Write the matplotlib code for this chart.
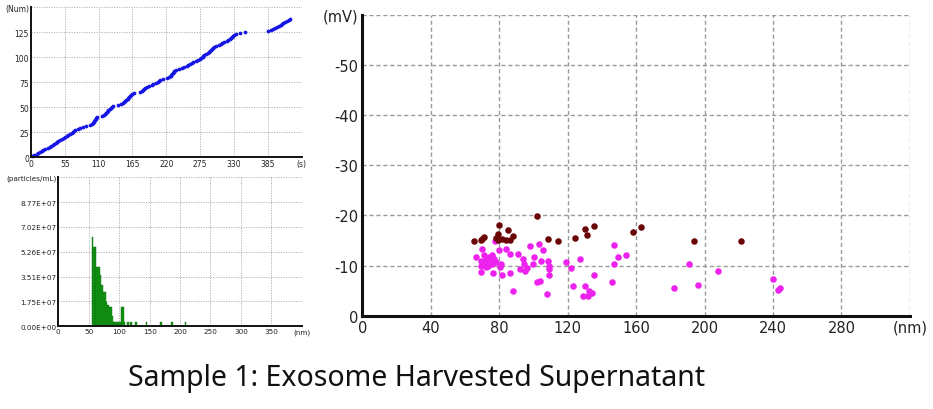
import matplotlib

matplotlib.use("Agg")
import matplotlib.pyplot as plt
import numpy as np

# top-left: arrival time (s) of each counted particle
event_time_s = [
    1, 5, 9, 12, 15, 18, 20, 23, 27, 31, 33, 35, 37, 40, 42, 44, 47, 50, 53, 55,
    58, 61, 63, 66, 68, 70, 72, 76, 80, 84, 90, 96, 100, 101, 102, 103, 104, 105,
    106, 108, 115, 118, 120, 122, 124, 125, 126, 128, 130, 132, 134, 142, 146,
    149, 151, 153, 155, 157, 158, 160, 161, 163, 165, 167, 177, 180, 182, 184,
    186, 188, 192, 196, 199, 203, 206, 208, 210, 215, 221, 225, 227, 228, 229,
    231, 232, 233, 235, 240, 245, 249, 253, 256, 259, 262, 264, 268, 272, 275,
    277, 279, 280, 282, 285, 287, 289, 291, 293, 295, 296, 298, 300, 306, 309,
    311, 314, 318, 320, 323, 325, 327, 328, 330, 334, 340, 348, 386, 390, 394,
    397, 400, 404, 406, 408, 410, 413, 416, 419, 421,
]
time_ticks = [0, 55, 110, 165, 220, 275, 330, 385, 440]
time_labels = ["0", "55", "110", "165", "220", "275", "330", "385", "(s)"]
num_ticks = [0, 25, 50, 75, 100, 125, 150]
num_labels = ["0", "25", "50", "75", "100", "125", "(Num)"]

# bottom-left: size distribution
bin_center_nm = [
    56.25, 58.75, 61.25, 63.75, 66.25, 68.75, 71.25, 73.75, 76.25, 78.75,
    81.25, 83.75, 86.25, 88.75, 91.25, 93.75, 96.25, 98.75, 101.25, 103.75,
    106.25, 108.75, 114, 119.5, 127, 145, 169, 187, 209,
]
conc_e7 = [
    6.33, 5.62, 5.62, 4.21, 4.21, 3.62, 2.92, 2.44, 2.44, 1.74,
    1.50, 1.38, 1.38, 0.75, 0.32, 0.32, 0.32, 0.32, 0.32, 1.38,
    1.38, 0.32, 0.32, 0.32, 0.32, 0.32, 0.32, 0.32, 0.32,
]
size_ticks = [0, 50, 100, 150, 200, 250, 300, 350, 400]
size_labels = ["0", "50", "100", "150", "200", "250", "300", "350", "(nm)"]
conc_ticks = [0, 1.754e7, 3.508e7, 5.262e7, 7.016e7, 8.77e7, 1.0524e8]
conc_labels = ["0.00E+00", "1.75E+07", "3.51E+07", "5.26E+07", "7.02E+07",
               "8.77E+07", "(particles/mL)"]

# right: zeta potential vs size
dark_size_nm = [65.2, 69.1, 69.8, 70.9, 79.3, 78.2, 80.0, 79.3, 81.6, 83.9, 85.0,
                86.6, 88.0, 102.1, 108.3, 114.2, 124.2, 130.2, 131.1, 135.2,
                158.0, 163.0, 194.0, 221.1]
dark_zeta_mv = [-14.9, -15.0, -15.3, -15.7, -15.0, -15.5, -18.0, -16.3, -15.2,
                -15.1, -17.1, -15.1, -15.9, -19.9, -15.3, -14.9, -15.5, -17.3,
                -16.0, -17.9, -16.7, -17.7, -14.9, -14.9]
pink_size_nm = [66.3, 69.1, 69.1, 69.5, 70.0, 70.9, 71.4, 72.5, 72.5, 73.2, 73.6,
                74.1, 74.8, 75.5, 75.9, 76.4, 77.1, 77.5, 78.2, 80.0, 80.5, 80.9,
                81.6, 83.9, 86.2, 86.2, 88.0, 91.2, 92.3, 93.7, 94.2, 95.3, 96.4,
                98.0, 99.9, 100.5, 102.1, 103.3, 103.7, 104.4, 105.5, 107.8, 108.3,
                109.0, 109.0, 109.0, 119.2, 122.2, 123.1, 127.2, 130.2, 129.0,
                131.8, 132.5, 134.1, 135.2, 146.1, 147.0, 147.0, 149.3, 154.1,
                181.9, 191.0, 196.1, 208.1, 240.0, 243.0, 244.2]
pink_zeta_mv = [-11.7, -8.7, -10.0, -11.0, -13.3, -12.0, -10.3, -9.7, -11.3, -10.7,
                -10.0, -11.7, -11.0, -10.3, -12.0, -8.5, -11.3, -14.8, -10.7, -13.0,
                -9.7, -10.3, -8.1, -13.3, -12.3, -8.5, -4.9, -12.3, -9.3, -11.3,
                -10.3, -9.0, -9.5, -13.8, -10.3, -11.7, -6.7, -14.3, -7.0, -11.0,
                -13.0, -4.3, -11.0, -10.0, -8.1, -9.3, -10.8, -9.5, -6.0, -11.3,
                -6.0, -4.0, -3.9, -5.0, -4.5, -8.1, -6.7, -14.0, -10.3, -11.7,
                -12.0, -5.5, -10.3, -6.2, -8.9, -7.3, -5.2, -5.6]
nm_ticks = [0, 40, 80, 120, 160, 200, 240, 280, 320]
nm_labels = ["0", "40", "80", "120", "160", "200", "240", "280", "(nm)"]
mv_ticks = [0, -10, -20, -30, -40, -50, -60]
mv_labels = ["0", "-10", "-20", "-30", "-40", "-50", "(mV)"]

plt.rcParams["font.family"] = "DejaVu Sans"

fig = plt.figure(figsize=(9.33, 4.10), dpi=100)


def style_axes(ax, spine_lw, grid_color, grid_ls, grid_lw, fontsize, pad):
    for side in ("top", "right"):
        ax.spines[side].set_visible(False)
    for side in ("left", "bottom"):
        ax.spines[side].set_linewidth(spine_lw)
        ax.spines[side].set_color("#111111")
    ax.grid(True, color=grid_color, linestyle=grid_ls, linewidth=grid_lw)
    ax.set_axisbelow(True)
    ax.tick_params(length=0, labelsize=fontsize, pad=pad, colors="#222222")


# ---------------------------------------------------------------- count vs time
ax1 = fig.add_axes([0.0332, 0.6139, 0.2901, 0.3659])
num = np.arange(1, len(event_time_s) + 1)
ax1.plot(event_time_s, num, "o", color="#1515e6", markersize=2.7, markeredgewidth=0,
         clip_on=False)
ax1.set_xlim(0, 440)
ax1.set_ylim(0, 150)
ax1.set_xticks(time_ticks, time_labels)
ax1.set_yticks(num_ticks, num_labels)
style_axes(ax1, 1.4, "#ababab", (0, (1.5, 1.5)), 0.6, 5.5, 1.5)

# ---------------------------------------------------------------- size histogram
ax2 = fig.add_axes([0.0625, 0.2017, 0.2609, 0.3634])
ax2.bar(bin_center_nm, np.array(conc_e7) * 1e7, width=3.0, color="#129812",
        edgecolor="#0b700b", linewidth=0.3)
ax2.set_xlim(0, 400)
ax2.set_ylim(0, 1.0524e8)
ax2.set_xticks(size_ticks, size_labels)
ax2.set_yticks(conc_ticks, conc_labels)
style_axes(ax2, 1.4, "#ababab", (0, (1.5, 1.5)), 0.6, 5.2, 1.5)

# ---------------------------------------------------------------- zeta scatter
ax3 = fig.add_axes([0.3883, 0.2276, 0.5870, 0.7341])
ax3.scatter(pink_size_nm, pink_zeta_mv, s=22, color="#ee22ee", linewidths=0, zorder=3)
ax3.scatter(dark_size_nm, dark_zeta_mv, s=22, color="#6b0505", linewidths=0, zorder=4)
ax3.set_xlim(0, 320)
ax3.set_ylim(0, -60)
ax3.set_xticks(nm_ticks, nm_labels)
ax3.set_yticks(mv_ticks, mv_labels)
style_axes(ax3, 2.2, "#9a9a9a", (0, (3, 2)), 1.0, 10.5, 3)

fig.text(0.446, 0.078, "Sample 1: Exosome Harvested Supernatant", ha="center",
         va="center", fontsize=20.5, family="Noto Sans", color="#111111")

fig.savefig("out.png", dpi=100)
